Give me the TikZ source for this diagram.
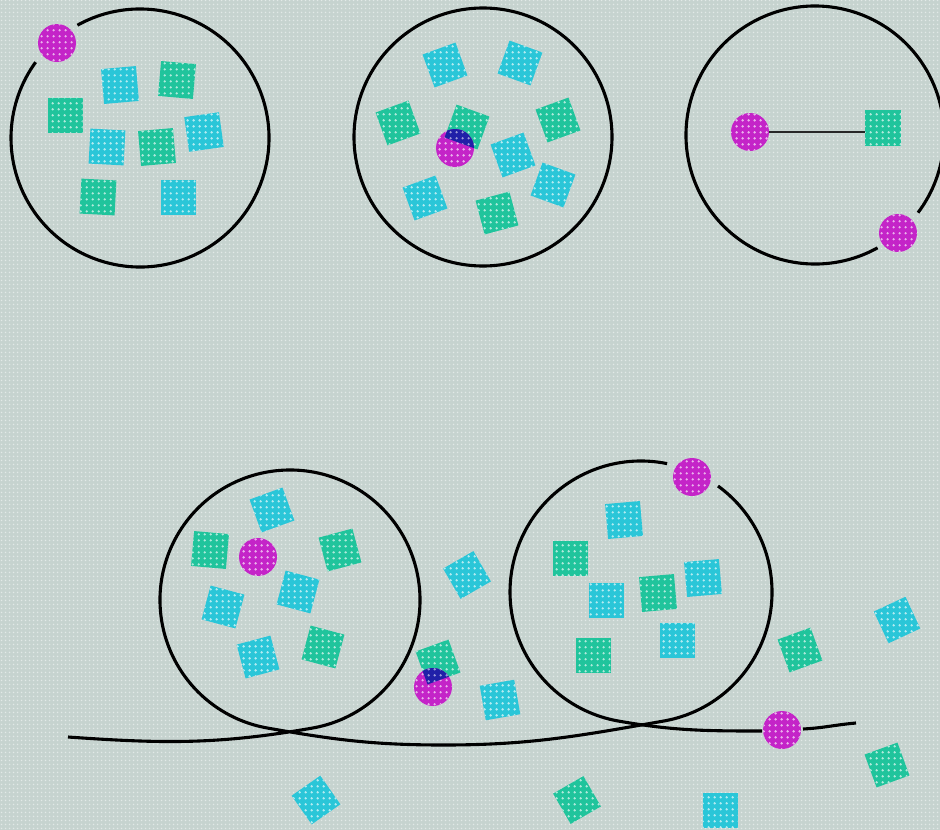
\documentclass[tikz,border=0pt]{standalone}
\usetikzlibrary{patterns.meta}
\definecolor{bg}{HTML}{C6D3CF}
\definecolor{cy}{HTML}{2AC6D8}
\definecolor{gr}{HTML}{20C49C}
\definecolor{mg}{HTML}{C424C8}
\definecolor{bl}{HTML}{2020A8}
\tikzdeclarepattern{
  name=wdots,
  type=uncolored,
  bounding box={(0pt,0pt) and (5.6pt,5.6pt)},
  tile size={(5.6pt,5.6pt)},
  code={\fill (2.8pt,2.8pt) circle (1.35pt);}
}
\tikzdeclarepattern{
  name=bgdots,
  type=uncolored,
  bounding box={(0pt,0pt) and (3.5pt,3.5pt)},
  tile size={(3.5pt,3.5pt)},
  code={\fill (1.75pt,1.75pt) circle (0.9pt);}
}
\tikzset{
  sqbase/.style={rectangle, minimum size=35pt, inner sep=0pt, outer sep=0pt},
  cysq/.style={sqbase, fill=cy, postaction={pattern=wdots, pattern color=cy!35!white}},
  grsq/.style={sqbase, fill=gr, postaction={pattern=wdots, pattern color=gr!35!white}},
  ball/.style={circle, minimum size=38pt, inner sep=0pt, outer sep=0pt, fill=mg, postaction={pattern=wdots, pattern color=mg!35!white}},
  ring/.style={draw=black, line width=3.1pt},
  link/.style={draw=black!85, line width=1.6pt},
  wedge/.style={fill=bl, postaction={pattern=wdots, pattern color=bl!45!white}},
}
\begin{document}
\begin{tikzpicture}[x=1pt, y=1pt, yscale=-1]
\useasboundingbox (0,0) rectangle (940,830);
\fill[bg] (0,0) rectangle (940,830);
\fill[pattern=bgdots, pattern color=bg!50!white] (0,0) rectangle (940,830);

\coordinate (c1) at (140,138);
\coordinate (c2) at (483,137);
\coordinate (c3) at (815,135);
\coordinate (c4) at (290,600);
\coordinate (c5) at (641,592);

% circle 1 squares
\node[cysq, rotate=5]  (a1) at (120,85) {};
\node[grsq, rotate=-5] (a2) at (177,80) {};
\node[grsq, rotate=0]  (a3) at (65,115) {};
\node[cysq, rotate=-3] (a4) at (107,147) {};
\node[grsq, rotate=5]  (a5) at (157,147) {};
\node[cysq, rotate=8]  (a6) at (204,132) {};
\node[grsq, rotate=-3] (a7) at (98,197) {};
\node[cysq, rotate=0]  (a8) at (178,197) {};

% circle 2 squares
\node[cysq, rotate=20]  (b1) at (445,65) {};
\node[cysq, rotate=-20] (b2) at (520,63) {};
\node[grsq, rotate=20]  (b3) at (398,123) {};
\node[grsq, rotate=-20] (b4) at (467,127) {};
\node[grsq, rotate=20]  (b5) at (558,120) {};
\node[cysq, rotate=20]  (b6) at (513,155) {};
\node[cysq, rotate=-20] (b7) at (553,185) {};
\node[cysq, rotate=20]  (b8) at (425,198) {};
\node[grsq, rotate=15]  (b9) at (497,213) {};

% circle 3 square
\node[grsq, minimum size=36pt] (s3) at (883,128) {};

% circle 4 squares
\node[cysq, rotate=20]  (d1) at (272,510) {};
\node[grsq, rotate=-5]  (d2) at (210,550) {};
\node[grsq, rotate=15]  (d3) at (340,550) {};
\node[cysq, rotate=-15] (d4) at (298,592) {};
\node[cysq, rotate=-15] (d5) at (223,607) {};
\node[cysq, rotate=15]  (d6) at (258,657) {};
\node[grsq, rotate=-15] (d7) at (323,647) {};

% circle 5 squares
\node[cysq, rotate=5]  (e1) at (624,520) {};
\node[grsq, rotate=0]  (e2) at (570,558) {};
\node[cysq, rotate=0]  (e3) at (606,600) {};
\node[grsq, rotate=5]  (e4) at (658,593) {};
\node[cysq, rotate=5]  (e5) at (703,578) {};
\node[cysq, rotate=0]  (e6) at (677,640) {};
\node[grsq, rotate=0]  (e7) at (593,655) {};

% loose squares
\node[cysq, rotate=30] (f1) at (467,575) {};
\node[grsq, rotate=20] (f2) at (438,662) {};
\node[cysq, rotate=10] (f3) at (500,700) {};
\node[grsq, rotate=20] (f4) at (800,650) {};
\node[cysq, rotate=25] (f5) at (897,620) {};
\node[grsq, rotate=20] (f6) at (887,765) {};
\node[cysq, rotate=35] (f7) at (316,800) {};
\node[grsq, rotate=30] (f8) at (577,800) {};
\node[cysq, rotate=0]  (f9) at (720,810) {};

% balls
\node[ball] (m1) at (57,43) {};
\node[ball] (m2) at (455,148) {};
\node[ball] (m3) at (750,132) {};
\node[ball] (m4) at (898,233) {};
\node[ball] (m5) at (258,557) {};
\node[ball] (m6) at (433,687) {};
\node[ball] (m7) at (692,477) {};
\node[ball] (m8) at (782,730) {};

% blue overlaps
\begin{scope}
  \clip (m2.center) circle[radius=19];
  \path[wedge] (b4.north west) -- (b4.north east) -- (b4.south east) -- (b4.south west) -- cycle;
\end{scope}
\begin{scope}
  \clip (m6.center) circle[radius=19];
  \path[wedge] (f2.north west) -- (f2.north east) -- (f2.south east) -- (f2.south west) -- cycle;
\end{scope}

% connector in circle 3
\draw[link] (m3) -- (s3.west |- m3);

% rings
\draw[ring] ([shift={(-119:129)}]c1) arc[start angle=-119, end angle=216, radius=129];
\draw[ring] (c2) circle[radius=129];
\draw[ring] ([shift={(61:129)}]c3) arc[start angle=61, end angle=397, radius=129];

% long line with loops
\draw[ring] (68,737) to[out=4, in=170] ([shift={(80:130)}]c4)
  arc[start angle=80, end angle=-260, radius=130]
  to[out=10, in=180] (444,745) to[out=0, in=170] ([shift={(80:131)}]c5)
  arc[start angle=80, end angle=-54, radius=131];
\draw[ring] ([shift={(-78.5:131)}]c5) arc[start angle=-78.5, end angle=-260, radius=131]
  to[out=10, in=180] (762,731);
\draw[ring] (803,729) to[out=-3, in=175] (856,723);
\end{tikzpicture}
\end{document}
